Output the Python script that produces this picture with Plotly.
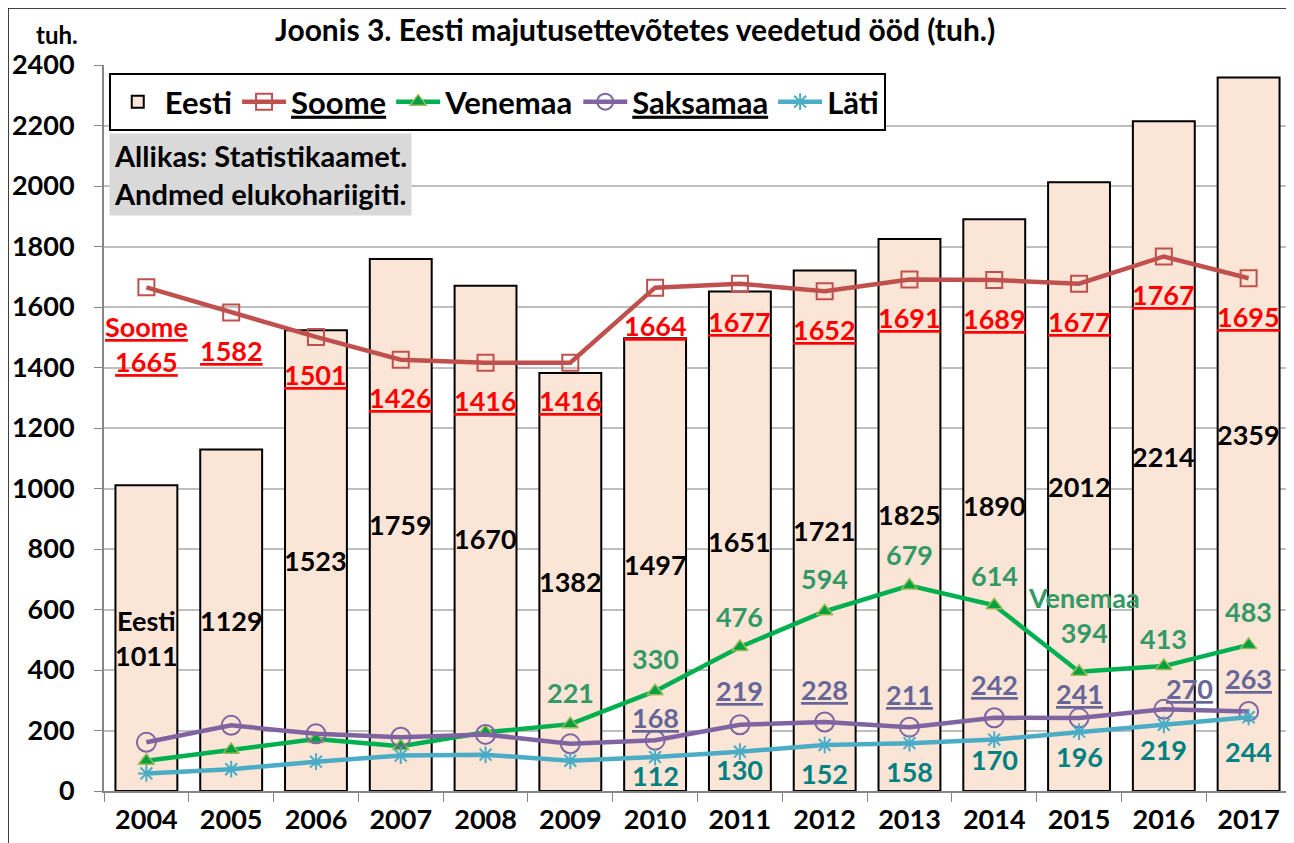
import plotly.graph_objects as go

years = ["2004", "2005", "2006", "2007", "2008", "2009", "2010",
         "2011", "2012", "2013", "2014", "2015", "2016", "2017"]
eesti = [1011, 1129, 1523, 1759, 1670, 1382, 1497, 1651, 1721, 1825, 1890, 2012, 2214, 2359]
soome = [1665, 1582, 1501, 1426, 1416, 1416, 1664, 1677, 1652, 1691, 1689, 1677, 1767, 1695]
venemaa = [100, 136, 172, 148, 194, 221, 330, 476, 594, 679, 614, 394, 413, 483]
saksamaa = [161, 217, 189, 178, 187, 156, 168, 219, 228, 211, 242, 241, 270, 263]
lati = [58, 72, 97, 117, 120, 100, 112, 130, 152, 158, 170, 196, 219, 244]

# which points carry a value label
venemaa_labelled = [False] * 5 + [True] * 9
saksamaa_labelled = [False] * 6 + [True] * 8
lati_labelled = [False] * 6 + [True] * 8

# label pixel offsets (style)
ven_dy = [0, 0, 0, 0, 0, 32, 33, 31, 33, 31, 30, 37, 28, 33]
sak_dy = [0, 0, 0, 0, 0, 0, 23, 34, 33, 33, 33, 25, 21, 33]
sak_dx = [0] * 12 + [26, 0]
lat_dy = [0, 0, 0, 0, 0, 0, 18, 18, 28, 28, 20, 25, 25, 34]

FONT = "Lato"
C_BAR = "#FBE5D6"
C_SOOME = "#C0504D"
C_VEN = "#00B050"
C_SAK = "#8064A2"
C_LAT = "#4BACC6"
L_SOOME = "#FF0000"
L_VEN = "#339966"
L_SAK = "#666699"
L_LAT = "#008080"

fig = go.Figure()
fig.add_trace(go.Bar(x=years, y=eesti, name="Eesti",
                     marker=dict(color=C_BAR, line=dict(color="black", width=2))))
fig.add_trace(go.Scatter(x=years, y=soome, name="<u>Soome</u>", mode="lines+markers",
                         line=dict(color=C_SOOME, width=4.5),
                         marker=dict(symbol="square-open", size=16, color=C_SOOME,
                                     line=dict(width=2))))
fig.add_trace(go.Scatter(x=years, y=venemaa, name="Venemaa", mode="lines+markers",
                         line=dict(color=C_VEN, width=4.5),
                         marker=dict(symbol="triangle-up", size=14, color="#00A040",
                                     line=dict(color="#9BBB59", width=1.5))))
fig.add_trace(go.Scatter(x=years, y=saksamaa, name="<u>Saksamaa</u>", mode="lines+markers",
                         line=dict(color=C_SAK, width=4.5),
                         marker=dict(symbol="circle-open", size=19, color=C_SAK,
                                     line=dict(width=2))))
fig.add_trace(go.Scatter(x=years, y=lati, name="Läti", mode="lines+markers",
                         line=dict(color=C_LAT, width=4.5),
                         marker=dict(symbol="asterisk-open", size=14, color=C_LAT,
                                     line=dict(width=2))))

ann = []
fs = 27
# bar labels (x given as category index)
for i, v in enumerate(eesti):
    txt = f"{v}" if i else f"Eesti<br>{v}"
    ann.append(dict(x=i, y=v / 2, text=txt, showarrow=False,
                    font=dict(family=FONT, size=fs, color="black", weight="bold")))
# Soome labels
for i, v in enumerate(soome):
    if i == 0:
        ann.append(dict(x=i, y=v, yshift=-57, text=f"<u>Soome</u><br><u>{v}</u>",
                        showarrow=False,
                        font=dict(family=FONT, size=fs, color=L_SOOME, weight="bold")))
    else:
        ann.append(dict(x=i, y=v, yshift=-38, text=f"<u>{v}</u>", showarrow=False,
                        font=dict(family=FONT, size=fs, color=L_SOOME, weight="bold")))
# Venemaa labels
for i, v in enumerate(venemaa):
    if not venemaa_labelled[i]:
        continue
    if i == 11:
        ann.append(dict(x=i, y=v, yshift=57, xshift=5, text=f"Venemaa<br>{v}",
                        showarrow=False,
                        font=dict(family=FONT, size=fs, color=L_VEN, weight="bold")))
    else:
        ann.append(dict(x=i, y=v, yshift=ven_dy[i], text=f"{v}", showarrow=False,
                        font=dict(family=FONT, size=fs, color=L_VEN, weight="bold")))
# Saksamaa labels
for i, v in enumerate(saksamaa):
    if not saksamaa_labelled[i]:
        continue
    ann.append(dict(x=i, y=v, yshift=sak_dy[i], xshift=sak_dx[i], text=f"<u>{v}</u>",
                    showarrow=False,
                    font=dict(family=FONT, size=fs, color=L_SAK, weight="bold")))
# Läti labels
for i, v in enumerate(lati):
    if not lati_labelled[i]:
        continue
    ann.append(dict(x=i, y=v, yshift=-lat_dy[i], text=f"{v}", showarrow=False,
                    font=dict(family=FONT, size=fs, color=L_LAT, weight="bold")))

# title, unit, source
ann.append(dict(xref="paper", yref="paper", x=0.447, y=1.05, yanchor="middle",
                text="Joonis 3. Eesti majutusettevõtetes veedetud ööd (tuh.)",
                showarrow=False,
                font=dict(family=FONT, size=30, color="black", weight="bold")))
ann.append(dict(xref="paper", yref="paper", x=-0.059, y=1.042, yanchor="middle",
                text="tuh.", showarrow=False,
                font=dict(family=FONT, size=24, color="black", weight="bold")))
ann.append(dict(xref="paper", yref="paper", x=0.004, y=0.906, xanchor="left", yanchor="top",
                text="Allikas: Statistikaamet.<br>Andmed elukohariigiti.", align="left",
                showarrow=False, bgcolor="#D9D9D9", borderpad=4,
                font=dict(family=FONT, size=29, color="black", weight="bold")))

ML, MR, MT, MB = 96, 11, 57, 60
PW, PH = 1294 - ML - MR, 843 - MT - MB

fig.update_layout(
    width=1294, height=843,
    margin=dict(l=ML, r=MR, t=MT, b=MB),
    paper_bgcolor="white", plot_bgcolor="white",
    bargap=0.27,
    showlegend=True,
    legend=dict(orientation="h", x=0.004, y=0.989, xanchor="left", yanchor="top",
                bgcolor="white", bordercolor="black", borderwidth=2,
                font=dict(family=FONT, size=31, color="black", weight="bold"),
                itemwidth=44, tracegroupgap=0),
    annotations=ann,
    font=dict(family=FONT),
    shapes=[dict(type="rect", xref="paper", yref="paper",
                 x0=-ML / PW, x1=1.0, y0=-(MB + 10) / PH, y1=1 + MT / PH,
                 line=dict(color="black", width=1.5), fillcolor="rgba(0,0,0,0)",
                 layer="below")],
)
fig.update_yaxes(range=[0, 2400], dtick=200, showgrid=True, gridcolor="#BFBFBF",
                 gridwidth=2, showline=True, linecolor="#868686", linewidth=2,
                 ticks="outside", ticklen=8, tickcolor="#868686", zeroline=False,
                 automargin=False, ticklabelstandoff=14,
                 tickfont=dict(family=FONT, size=27, color="black", weight="bold"))
fig.update_xaxes(type="category", range=[-0.5, 13.5], showline=True, linecolor="#868686",
                 linewidth=2, ticks="outside", ticklen=9, tickcolor="#868686",
                 tickson="boundaries", showgrid=False, automargin=False, tickangle=0,
                 ticklabelstandoff=4,
                 tickfont=dict(family=FONT, size=27, color="black", weight="bold"))

fig.write_html("out.html")
